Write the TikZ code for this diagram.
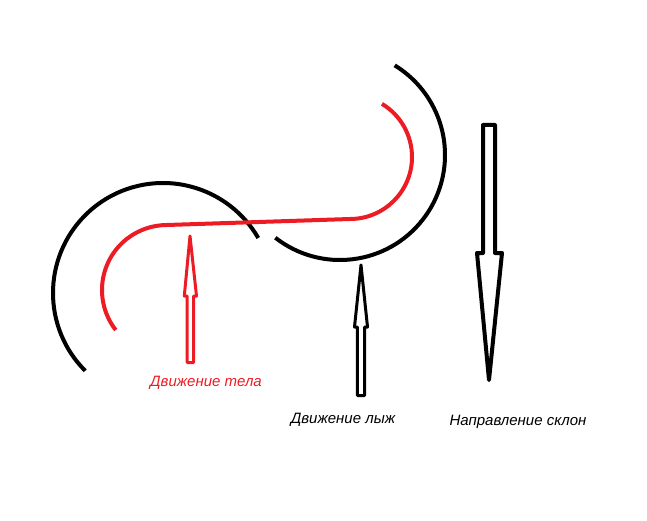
\documentclass[tikz,border=0pt]{standalone}
\usepackage{fontspec}
\setmainfont{Liberation Sans}
\definecolor{skired}{RGB}{237,28,36}
\begin{document}
\begin{tikzpicture}[x=1pt,y=1pt,
  trail/.style={line width=4pt},
  hollow/.style={line width=3pt,line join=round,fill=white},
  lbl/.style={font=\itshape\fontsize{15}{17}\selectfont,inner sep=0pt}]
\useasboundingbox (0,0) rectangle (647,520);
% black ski arcs
\draw[trail] (163,227) ++(225:110) arc[start angle=225,end angle=30,radius=110];
\draw[trail] (340,365) ++(232:105) arc[start angle=232,end angle=418.6,radius=105];
% red body path
\draw[trail,skired] (167,230) ++(218:65) arc[start angle=218,end angle=90,radius=65]
  -- (350,301) arc[start angle=270,end angle=419,radius=62];
% arrows
\draw[hollow,draw=skired] (190,284) -- (196.5,224) -- (193.6,224) -- (193.6,157.5) -- (187.2,157.5) -- (187.2,224) -- (184.3,224) -- cycle;
\draw[hollow] (361,255) -- (367.5,193) -- (364.6,193) -- (364.6,124.5) -- (357.4,124.5) -- (357.4,193) -- (354.5,193) -- cycle;
\draw[hollow,line width=4pt] (483,395) -- (495,395) -- (495,267) -- (502,267) -- (489,140) -- (477,267) -- (483,267) -- cycle;
% labels
\node[lbl,text=skired] (body) at (206,137) {Движение тела};
\node[lbl] (skis) at (343,100) {Движение лыж};
\node[lbl] (slope) at (518,98) {Направление склон};
\end{tikzpicture}
\end{document}
